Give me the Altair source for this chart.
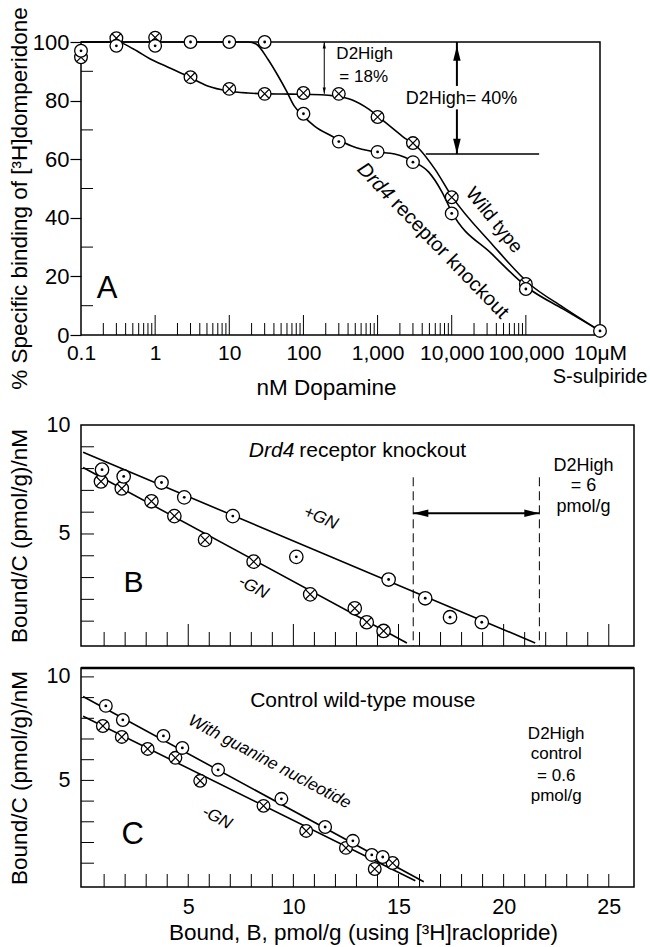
import altair as alt
import pandas as pd

FONT = "Liberation Sans"

# ---------------- Panel A data (nM dopamine vs % specific binding) ----------------
conc_nM = [0.1, 0.3, 1, 3, 10, 30, 100, 300, 1000, 3000, 10000, 100000, 1000000]
ko_pct = [97.0, 98.7, 98.7, 100, 100, 100, 75.5, 66.0, 62.5, 59.0, 41.5, 15.7, 1.4]
wt_conc = [0.1, 0.3, 1, 3, 10, 30, 100, 300, 1000, 3000, 10000, 100000]
wt_pct = [94.8, 101.3, 101.5, 88.0, 84.0, 82.3, 82.6, 82.3, 74.4, 65.5, 47.0, 17.4]

ko_curve_x = [0.1, 18, 23, 33, 45.6, 59, 75, 100, 141, 240, 447, 910, 1700, 3160,
              4900, 7400, 10000, 35000, 112000, 316000, 1000000]
ko_curve_y = [100, 100, 99.3, 94.2, 88.4, 83.3, 78.2, 74.7, 71.3, 67.9, 64.5, 62.5,
              61.8, 59.0, 55.6, 48.8, 42.0, 27.6, 15.7, 8.9, 1.4]
wt_curve_x = [0.1, 0.31, 0.51, 0.86, 1.47, 2.7, 5.1, 9.6, 17.8, 33, 68, 174, 263, 447,
              760, 1250, 2140, 3650, 5900, 10000, 35000, 112000, 316000, 1000000]
wt_curve_y = [100, 100, 97.6, 94.2, 91.5, 88.4, 85.0, 83.3, 82.6, 82.3, 82.2, 82.0,
              81.6, 80.3, 77.1, 72.7, 67.9, 63.5, 56.7, 47.4, 31.0, 17.4, 9.5, 1.4]

a_major_ticks = [1, 10, 100, 1000, 10000, 100000]
a_minor_ticks = [m * 10 ** e for e in range(-1, 5) for m in range(2, 10)]
a_tick_labels = [0.1, 1, 10, 100, 1000, 10000, 100000, 1000000]

# annotations (data units)
d2_small_x = 191            # nM, thin double arrow
d2_small_y = [100, 82.3]
d2_big_x = 11750            # nM, thick double arrow
d2_big_seg1 = [100, 85]
d2_big_seg2 = [77, 61.8]
d2_hline_x = [4470, 151000]
d2_hline_y = 61.8

# ---------------- Panel B data (Drd4 knockout Scatchard) ----------------
b_plus_x = [0.90, 1.93, 3.73, 4.81, 7.12, 10.14, 14.53, 16.27, 17.45, 18.96]
b_plus_y = [7.95, 7.64, 7.36, 6.68, 5.82, 3.95, 2.91, 2.05, 1.18, 0.95]
b_minus_x = [0.85, 1.84, 3.25, 4.34, 5.80, 8.11, 10.80, 12.92, 13.49, 14.29]
b_minus_y = [7.41, 7.09, 6.50, 5.82, 4.73, 3.73, 2.23, 1.59, 0.95, 0.55]
b_plus_line_x, b_plus_line_y = [0, 21.5], [8.75, 0]
b_minus_line_x, b_minus_line_y = [0, 15.4], [8.05, 0]
b_dash_x = [15.7, 21.7]
b_dash_top = 7.6
b_arrow_y = 5.95

# ---------------- Panel C data (control wild-type Scatchard) ----------------
c_plus_x = [1.08, 1.89, 3.82, 4.72, 6.42, 9.43, 11.51, 12.83, 13.73, 14.25]
c_plus_y = [8.60, 7.92, 7.15, 6.57, 5.51, 4.11, 2.75, 2.08, 1.40, 1.30]
c_minus_x = [0.94, 1.84, 3.07, 4.39, 5.57, 8.58, 10.61, 12.50, 13.87, 14.72]
c_minus_y = [7.63, 7.10, 6.52, 6.09, 4.98, 3.77, 2.56, 1.74, 0.72, 1.01]
c_plus_line_x, c_plus_line_y = [0, 16.2], [9.05, 0.1]
c_minus_line_x, c_minus_line_y = [0, 15.8], [8.1, 0.15]

bc_ticks = list(range(1, 26))

# ---------------- geometry ----------------
A_W, A_H = 519, 293
B_W, B_H = 553, 221
C_W, C_H = 553, 219

XA = alt.Scale(type="log", domain=[0.1, 1e6], nice=False)
YA = alt.Scale(domain=[0, 100], nice=False, zero=False)
XB = alt.Scale(domain=[-0.1, 26.2], nice=False, zero=False)
YB = alt.Scale(domain=[-0.14, 10.0], nice=False, zero=False)
YC = alt.Scale(domain=[-0.15, 10.43], nice=False, zero=False)

CROSS = "M-0.7,-0.7L0.7,0.7M-0.7,0.7L0.7,-0.7"
UP = "M0,-1L0.5,1L-0.5,1Z"
DOWN = "M0,1L0.5,-1L-0.5,-1Z"
LEFT = "M-1,0L1,-0.5L1,0.5Z"
RIGHT = "M1,0L-1,-0.5L-1,0.5Z"

TITLE_SIZE = 22.5

# All layers of a panel inherit x="x:Q", y="y:Q" from the panel-level encoding.


def line(xv, yv, width=1.6, interp="linear", dash=None):
    df = pd.DataFrame({"x": xv, "y": yv, "i": list(range(len(xv)))})
    kw = dict(color="black", strokeWidth=width, interpolate=interp)
    if dash:
        kw["strokeDash"] = dash
    return alt.Chart(df).mark_line(**kw).encode(order="i:Q")


def markers(xv, yv, kind, size):
    df = pd.DataFrame({"x": xv, "y": yv})
    circ = alt.Chart(df).mark_point(shape="circle", filled=True, fill="white", stroke="black",
                                    strokeWidth=1.3, size=size, opacity=1)
    if kind == "dot":
        inner = alt.Chart(df).mark_point(shape="circle", filled=True, color="black",
                                         size=8, opacity=1)
    else:
        inner = alt.Chart(df).mark_point(shape=CROSS, filled=False, color="black",
                                         strokeWidth=1.2, size=size, opacity=1)
    return [circ, inner]


def text(xv, yv, t, size=18, angle=0, align="center", italic=False):
    df = pd.DataFrame({"x": xv, "y": yv, "t": t})
    kw = dict(font=FONT, fontSize=size, align=align, baseline="middle", color="black")
    if angle:
        kw["angle"] = angle
    if italic:
        kw["fontStyle"] = "italic"
    return alt.Chart(df).mark_text(**kw).encode(text="t:N")


def arrowhead(xv, yv, shape, size):
    df = pd.DataFrame({"x": xv, "y": yv})
    return alt.Chart(df).mark_point(shape=shape, filled=True, color="black", size=size, opacity=1)


def xticks(vals, h, length, width=1.0):
    df = pd.DataFrame({"x": vals})
    return alt.Chart(df).mark_rule(color="black", strokeWidth=width).encode(
        y=alt.value(h), y2=alt.value(h - length))


def yticks(vals, length, width=1.0):
    df = pd.DataFrame({"y": vals})
    return alt.Chart(df).mark_rule(color="black", strokeWidth=width).encode(
        x=alt.value(0), x2=alt.value(length))


# ---------------- Panel A ----------------
a_layers = [
    line(ko_curve_x, ko_curve_y, interp="monotone"),
    line(wt_curve_x, wt_curve_y, interp="monotone"),
    xticks(a_minor_ticks, A_H, 12),
    xticks(a_major_ticks, A_H, 20),
    yticks([10, 30, 50, 70, 90], 12),
    # thin D2High = 18% arrow
    line([d2_small_x, d2_small_x], d2_small_y, width=1.0),
    arrowhead([d2_small_x], [98.9], UP, 40),
    arrowhead([d2_small_x], [83.4], DOWN, 40),
    text([278], [95.9], ["D2High"], size=17, align="left"),
    text([305], [88.1], ["= 18%"], size=17, align="left"),
    # thick D2High = 40% arrow
    line([d2_big_x, d2_big_x], d2_big_seg1, width=2.0),
    line([d2_big_x, d2_big_x], d2_big_seg2, width=2.0),
    arrowhead([d2_big_x], [96.2], UP, 225),
    arrowhead([d2_big_x], [64.4], DOWN, 225),
    line(d2_hline_x, [d2_hline_y, d2_hline_y], width=1.6),
    text([13550], [80.5], ["D2High= 40%"], size=18),
]
a_layers += markers(wt_conc, wt_pct, "cross", 160)
a_layers += markers(conc_nM, ko_pct, "dot", 160)
a_layers += [
    text([589], [57.7], ["Drd4"], size=20, angle=46, align="left", italic=True),
    text([1700], [45.7], ["receptor knockout"], size=20, angle=46, align="left"),
    text([37400], [39.2], ["Wild type"], size=19, angle=51),
    text([0.225], [15.7], ["A"], size=31),
    text([1000000], [-14.4], ["S-sulpiride"], size=20),
]
panelA = alt.layer(*a_layers).encode(
    x=alt.X("x:Q", scale=XA, axis=alt.Axis(
        values=a_tick_labels, ticks=False, domain=False, labelFlush=False, labelOverlap=False,
        labelPadding=7, labelFontSize=21,
        labelExpr="datum.value >= 1000000 ? '10\u03bcM' : format(datum.value, ',')",
        title="nM Dopamine", titleX=245, titleY=52, titleBaseline="middle", titleAlign="center")),
    y=alt.Y("y:Q", scale=YA, axis=alt.Axis(
        values=[0, 20, 40, 60, 80, 100], tickSize=11, tickWidth=1.2, labelPadding=1, domain=False,
        labelFontSize=22,
        title="% Specific binding of [\u00b3H]domperidone", titleX=-62, titleY=156,
        titleBaseline="middle", titleAlign="center")),
).properties(width=A_W, height=A_H)

# ---------------- Panel B ----------------
b_layers = [
    line(b_plus_line_x, b_plus_line_y),
    line(b_minus_line_x, b_minus_line_y),
    xticks([v for v in bc_ticks if v % 5], B_H, 14),
    xticks([v for v in bc_ticks if v % 5 == 0], B_H, 22),
    yticks(list(range(1, 10)), 13),
    alt.Chart(pd.DataFrame({"x": b_dash_x, "y": [b_dash_top] * 2, "y2": [-0.14] * 2})).mark_rule(
        color="black", strokeWidth=1.0, strokeDash=[9, 5]).encode(y2="y2:Q"),
    line(b_dash_x, [b_arrow_y, b_arrow_y], width=2.0),
    arrowhead([b_dash_x[0] + 0.36], [b_arrow_y], LEFT, 225),
    arrowhead([b_dash_x[1] - 0.36], [b_arrow_y], RIGHT, 225),
]
b_layers += markers(b_minus_x, b_minus_y, "cross", 180)
b_layers += markers(b_plus_x, b_plus_y, "dot", 180)
b_layers += [
    text([7.88], [8.8], ["Drd4"], size=21, align="left", italic=True),
    text([10.28], [8.8], ["receptor knockout"], size=21, align="left"),
    text([23.8, 23.8, 23.8], [8.14, 7.18, 6.23], ["D2High", "= 6", "pmol/g"], size=18),
    text([11.3], [5.73], ["+GN"], size=17, angle=23, italic=True),
    text([8.1], [2.55], ["-GN"], size=17, angle=28, italic=True),
    text([2.4], [2.73], ["B"], size=30),
]
panelB = alt.layer(*b_layers).encode(
    x=alt.X("x:Q", scale=XB, axis=None),
    y=alt.Y("y:Q", scale=YB, axis=alt.Axis(
        values=[5, 10], ticks=False, domain=False, labelPadding=11, labelFontSize=21.5,
        title="Bound/C (pmol/g)/nM", titleX=-62, titleY=B_H / 2,
        titleBaseline="middle", titleAlign="center")),
).properties(width=B_W, height=B_H)

# ---------------- Panel C ----------------
c_layers = [
    line(c_plus_line_x, c_plus_line_y),
    line(c_minus_line_x, c_minus_line_y),
    xticks(bc_ticks, C_H, 13),
    yticks(list(range(1, 11)), 13),
    alt.Chart(pd.DataFrame({"k": [0]})).mark_rule(color="black", strokeWidth=2.6).encode(
        y=alt.value(0), x=alt.value(0), x2=alt.value(C_W)),
]
c_layers += markers(c_minus_x, c_minus_y, "cross", 160)
c_layers += markers(c_plus_x, c_plus_y, "dot", 160)
c_layers += [
    text([13.3], [8.84], ["Control wild-type mouse"], size=21),
    text([22.5] * 4, [7.25, 6.28, 5.22, 4.25], ["D2High", "control", "= 0.6", "pmol/g"], size=17),
    text([8.87], [5.89], ["With guanine nucleotide"], size=17, angle=28, italic=True),
    text([6.37], [3.19], ["-GN"], size=17, angle=28, italic=True),
    text([2.36], [2.37], ["C"], size=31),
]
panelC = alt.layer(*c_layers).encode(
    x=alt.X("x:Q", scale=XB, axis=alt.Axis(
        values=[5, 10, 15, 20, 25], ticks=False, domain=False, labelPadding=9, labelFlush=False,
        labelFontSize=21.5,
        title="Bound, B, pmol/g (using [\u00b3H]raclopride)", titleX=282, titleY=45,
        titleBaseline="middle", titleAlign="center")),
    y=alt.Y("y:Q", scale=YC, axis=alt.Axis(
        values=[5, 10], ticks=False, domain=False, labelPadding=11, labelFontSize=21.5,
        title="Bound/C (pmol/g)/nM", titleX=-62, titleY=C_H / 2,
        titleBaseline="middle", titleAlign="center")),
).properties(width=C_W, height=C_H)

chart = alt.vconcat(
    panelA,
    alt.vconcat(panelB, panelC, spacing=22, bounds="flush"),
    spacing=90, bounds="flush",
).properties(
    padding={"left": 7, "top": 5, "right": 0, "bottom": 0},
    background="white",
).configure_axis(
    labelFont=FONT, titleFont=FONT, labelColor="black", titleColor="black",
    tickColor="black", domainColor="black", grid=False, titleFontWeight="normal",
    titleFontSize=TITLE_SIZE,
).configure_view(stroke="black", strokeWidth=1.5)

chart.save("out.html", embed_options={"renderer": "svg", "actions": False})
